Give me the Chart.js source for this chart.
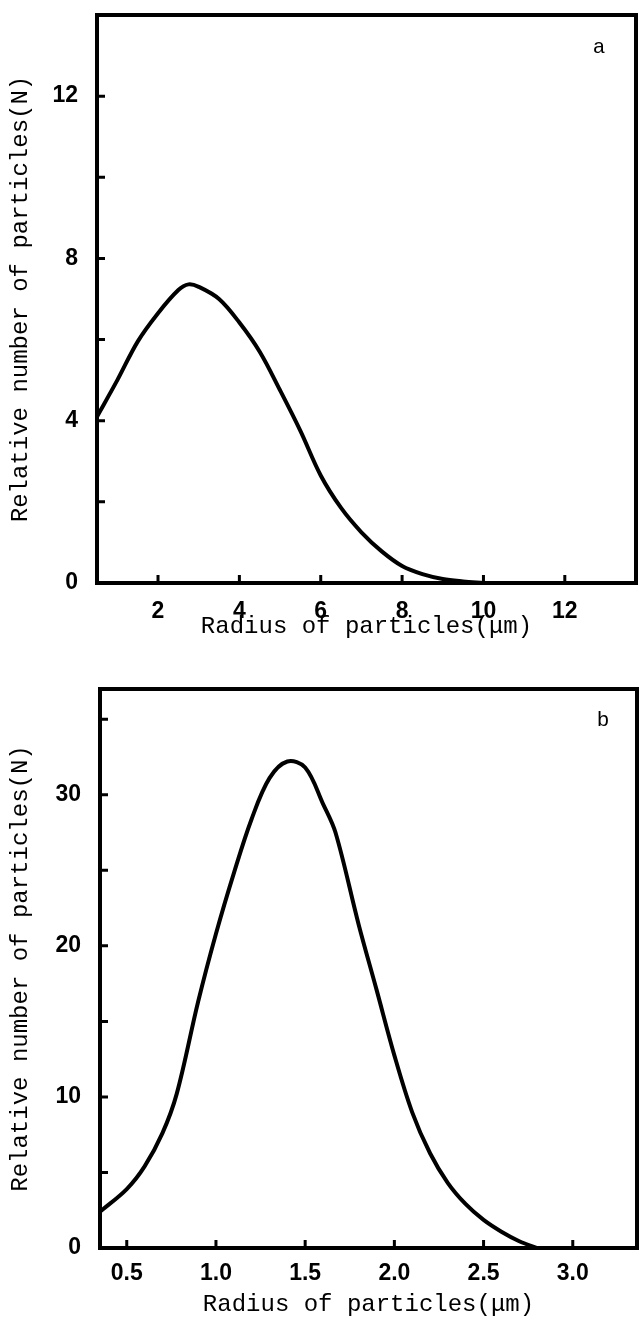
<!DOCTYPE html>
<html lang="en">

<head>
    <meta charset="UTF-8">
    <meta name="viewport" content="width=device-width, initial-scale=1.0">
    <style>
        body {
            margin: 0;
            background: #fff;
        }

        canvas {
            display: block;
        }
    </style>
</head>

<body>
    <canvas id="chartA" width="639" height="650"></canvas>
    <canvas id="chartB" width="639" height="669"></canvas>

    <script src="https://cdn.jsdelivr.net/npm/chart.js@4.4.0/dist/chart.umd.min.js"></script>
    <script>
        // panel a
        const radiusA = [0.5, 1, 1.5, 2, 2.5, 2.75, 3, 3.5, 4, 4.5, 5, 5.5, 6, 6.5, 7, 7.5, 8, 8.5, 9, 9.5, 10];
        const countA = [4.1, 5.0, 5.95, 6.65, 7.22, 7.36, 7.3, 7.0, 6.42, 5.7, 4.75, 3.75, 2.65, 1.85, 1.25, 0.78, 0.42, 0.22, 0.1, 0.04, 0];
        const xTicksA = [2, 4, 6, 8, 10, 12];
        const yTicksA = [0, 2, 4, 6, 8, 10, 12];
        const yLabelsA = [0, 4, 8, 12];

        // panel b
        const radiusB = [0.35, 0.5, 0.6, 0.7, 0.78, 0.9, 1.0, 1.1, 1.2, 1.3, 1.4, 1.5, 1.6, 1.67, 1.8, 1.9, 2.0, 2.1, 2.2, 2.3, 2.4, 2.5, 2.6, 2.7, 2.8];
        const countB = [2.4, 3.9, 5.4, 7.6, 10.2, 16.3, 20.8, 24.8, 28.4, 31.1, 32.2, 31.8, 29.4, 27.5, 21.4, 17.1, 12.75, 8.98, 6.27, 4.3, 2.9, 1.86, 1.08, 0.45, 0];
        const xTicksB = [0.5, 1.0, 1.5, 2.0, 2.5, 3.0];
        const yTicksB = [0, 5, 10, 15, 20, 25, 30, 35];
        const yLabelsB = [0, 10, 20, 30];

        const xTitle = 'Radius of particles(μm)';
        const yTitle = 'Relative number of particles(N)';

        const tickFont = { family: '"Liberation Sans", Arial, sans-serif', size: 23, weight: 'bold' };
        const titleFont = { family: '"Liberation Mono", "Courier New", monospace', size: 24 };

        // box around the plot, inward tick marks and the panel letter
        const frame = {
            id: 'frame',
            afterDraw(chart, args, opts) {
                const { ctx, chartArea: a, scales: { x, y } } = chart;
                ctx.save();
                ctx.strokeStyle = '#000';
                ctx.lineWidth = 4;
                ctx.strokeRect(a.left, a.top, a.right - a.left, a.bottom - a.top);
                ctx.lineWidth = 3;
                ctx.beginPath();
                x.ticks.forEach(t => {
                    const px = x.getPixelForValue(t.value);
                    ctx.moveTo(px, a.bottom);
                    ctx.lineTo(px, a.bottom - 8);
                });
                y.ticks.forEach(t => {
                    if (t.value === 0) return;
                    const py = y.getPixelForValue(t.value);
                    ctx.moveTo(a.left, py);
                    ctx.lineTo(a.left + 8, py);
                });
                ctx.stroke();
                ctx.fillStyle = '#000';
                ctx.font = '21px "Liberation Mono", monospace';
                ctx.textAlign = 'center';
                ctx.textBaseline = 'middle';
                ctx.fillText(opts.letter, x.getPixelForValue(opts.at[0]), y.getPixelForValue(opts.at[1]));
                ctx.restore();
            }
        };

        function makeChart(id, xs, ys, o) {
            return new Chart(document.getElementById(id), {
                type: 'line',
                data: {
                    labels: xs,
                    datasets: [{
                        data: xs.map((v, i) => ({ x: v, y: ys[i] })),
                        borderColor: '#000',
                        borderWidth: 4,
                        pointRadius: 0,
                        tension: 0.35,
                        fill: false
                    }]
                },
                options: {
                    responsive: false,
                    animation: false,
                    layout: { padding: o.padding },
                    plugins: {
                        legend: { display: false },
                        tooltip: { enabled: false },
                        frame: { letter: o.letter, at: o.letterAt }
                    },
                    scales: {
                        x: {
                            type: 'linear',
                            min: o.xMin,
                            max: o.xMax,
                            afterBuildTicks: s => { s.ticks = o.xTicks.map(v => ({ value: v })); },
                            afterFit: s => {
                                s.height = o.xHeight;
                                s.paddingLeft = 0;
                                s.paddingRight = 0;
                            },
                            grid: { display: false, drawTicks: false },
                            border: { display: false },
                            ticks: {
                                color: '#000',
                                font: tickFont,
                                padding: o.xTickPad,
                                maxRotation: 0,
                                autoSkip: false,
                                callback: o.xFmt
                            },
                            title: {
                                display: true,
                                text: xTitle,
                                color: '#000',
                                font: titleFont,
                                padding: { top: 0, bottom: o.xTitlePad }
                            }
                        },
                        y: {
                            min: 0,
                            max: o.yMax,
                            afterBuildTicks: s => { s.ticks = o.yTicks.map(v => ({ value: v })); },
                            afterFit: s => {
                                s.width = o.yWidth;
                                s.paddingTop = 0;
                                s.paddingBottom = 0;
                            },
                            grid: { display: false, drawTicks: false },
                            border: { display: false },
                            ticks: {
                                color: '#000',
                                font: tickFont,
                                padding: 19,
                                autoSkip: false,
                                callback: v => o.yLabels.includes(v) ? String(v) : ''
                            },
                            title: {
                                display: true,
                                text: yTitle,
                                color: '#000',
                                font: titleFont,
                                padding: { top: 6, bottom: 0 }
                            }
                        }
                    }
                },
                plugins: [frame]
            });
        }

        makeChart('chartA', radiusA, countA, {
            padding: { top: 15, right: 3, left: 0, bottom: 0 },
            xMin: 0.5, xMax: 13.75, yMax: 14,
            xTicks: xTicksA, yTicks: yTicksA, yLabels: yLabelsA,
            xFmt: v => String(v),
            xHeight: 67, yWidth: 97, xTickPad: 15, xTitlePad: 9,
            letter: 'a', letterAt: [12.84, 13.2]
        });

        makeChart('chartB', radiusB, countB, {
            padding: { top: 39, right: 2, left: 0, bottom: 0 },
            xMin: 0.35, xMax: 3.36, yMax: 37,
            xTicks: xTicksB, yTicks: yTicksB, yLabels: yLabelsB,
            xFmt: v => v.toFixed(1),
            xHeight: 71, yWidth: 100, xTickPad: 12, xTitlePad: 0,
            letter: 'b', letterAt: [3.17, 34.9]
        });
    </script>
</body>

</html>
